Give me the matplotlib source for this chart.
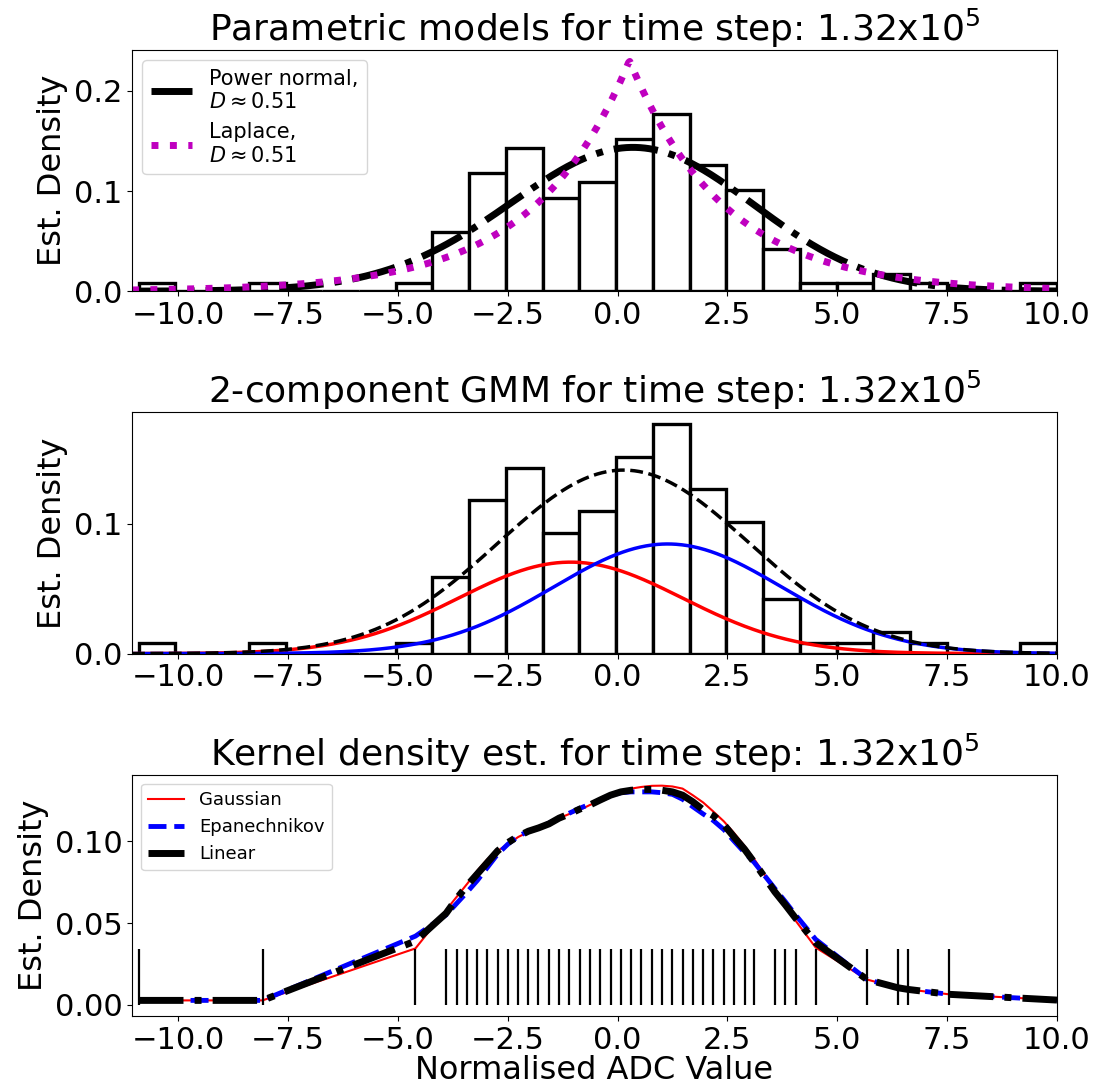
import numpy as np
import matplotlib
matplotlib.use('Agg')
import matplotlib.pyplot as plt
from matplotlib.lines import Line2D
from math import erf

# histogram of the normalised ADC values (25 equal bins between min and max)
hist_lo, hist_hi, n_bins = -10.9, 10.0, 25
bin_counts = [1, 0, 0, 1, 0, 0, 0, 1, 7, 14, 17, 11, 13,
              18, 21, 15, 12, 5, 1, 1, 2, 1, 0, 0, 1]

# fitted parametric models
pnorm_p, pnorm_loc, pnorm_scale = 1.5, 1.31, 3.13
laplace_loc, laplace_b = 0.27, 2.17
d_stat = 0.51

# 2 component gaussian mixture (weight, mean, sigma)
gmm_w = [0.45, 0.55]
gmm_mu = [-1.07, 1.14]
gmm_sd = [2.55, 2.60]

# unique sample values and kde estimates evaluated at them
kde_x = [-10.89, -8.08, -4.60, -3.90, -3.66, -3.42, -3.19, -2.96, -2.73, -2.50,
         -2.26, -2.03, -1.80, -1.56, -1.33, -1.10, -0.86, -0.63, -0.40, -0.16,
         0.075, 0.31, 0.54, 0.78, 1.01, 1.25, 1.48, 1.71, 1.95, 2.18,
         2.42, 2.65, 2.89, 3.11, 3.58, 3.82, 4.05, 4.51, 5.68, 6.38,
         6.61, 7.55, 10.0]
kde_gauss = [0.0028, 0.0028, 0.0345, 0.058, 0.066, 0.074, 0.082, 0.089, 0.094, 0.098,
             0.1025, 0.1055, 0.108, 0.1105, 0.114, 0.1165, 0.119, 0.122, 0.1245, 0.1275,
             0.130, 0.132, 0.133, 0.1337, 0.1338, 0.1333, 0.132, 0.128, 0.1235, 0.118,
             0.112, 0.105, 0.097, 0.089, 0.070, 0.061, 0.0515, 0.035, 0.0155, 0.0105,
             0.0095, 0.0065, 0.0030]
kde_epan = [0.0028, 0.0028, 0.042, 0.055, 0.062, 0.069, 0.076, 0.084, 0.092, 0.098,
            0.103, 0.106, 0.108, 0.111, 0.114, 0.117, 0.120, 0.1225, 0.125, 0.1275,
            0.1295, 0.130, 0.130, 0.130, 0.1295, 0.1285, 0.1255, 0.121, 0.1165, 0.1125,
            0.107, 0.100, 0.093, 0.087, 0.071, 0.063, 0.055, 0.040, 0.0155, 0.0105,
            0.0095, 0.0065, 0.0030]
kde_lin = [0.0028, 0.0028, 0.039, 0.056, 0.065, 0.073, 0.080, 0.087, 0.094, 0.099,
           0.103, 0.106, 0.108, 0.1105, 0.114, 0.1165, 0.1195, 0.122, 0.125, 0.128,
           0.130, 0.131, 0.1315, 0.1315, 0.131, 0.130, 0.128, 0.124, 0.119, 0.1155,
           0.110, 0.1025, 0.095, 0.087, 0.069, 0.061, 0.053, 0.038, 0.0155, 0.0105,
           0.0095, 0.0065, 0.0030]
# rug of the sample (last value sits on the right spine, not drawn)
rug_x = kde_x[:-1]
rug_top = 0.034

x_lim = (-11.05, 10.0)
x_ticks = [-10.0, -7.5, -5.0, -2.5, 0.0, 2.5, 5.0, 7.5, 10.0]
t_step = r'1.32x10$^5$'


def norm_pdf(x, mu, sd):
    return np.exp(-0.5 * ((x - mu) / sd) ** 2) / (sd * np.sqrt(2 * np.pi))


norm_cdf = np.vectorize(lambda z: 0.5 * (1 + erf(z / np.sqrt(2))))


def powernorm_pdf(x, p, loc, scale):
    z = (x - loc) / scale
    return p / scale * norm_pdf(z, 0, 1) * norm_cdf(-z) ** (p - 1)


def laplace_pdf(x, loc, b):
    return np.exp(-np.abs(x - loc) / b) / (2 * b)


edges = np.linspace(hist_lo, hist_hi, n_bins + 1)
centres = 0.5 * (edges[:-1] + edges[1:])
xs = np.linspace(x_lim[0], x_lim[1], 800)

plt.rcParams['font.size'] = 22
fig, axes = plt.subplots(3, 1, figsize=(11.01, 10.86), dpi=100)
fig.subplots_adjust(left=0.1199, right=0.960, top=0.954, bottom=0.0645, hspace=0.502)

# parametric fits
ax = axes[0]
ax.hist(centres, bins=edges, weights=bin_counts, density=True,
        color='white', edgecolor='k', lw=2.4)
ax.plot(xs, powernorm_pdf(xs, pnorm_p, pnorm_loc, pnorm_scale), 'k-.', lw=5)
ax.plot(xs, laplace_pdf(xs, laplace_loc, laplace_b), 'm:', lw=5)
handles = [Line2D([], [], color='k', ls='-.', lw=5),
           Line2D([], [], color='m', ls=':', lw=5)]
ax.legend(handles, ['Power normal,\n$D \\approx %.2f$' % d_stat,
                    'Laplace,\n$D \\approx %.2f$' % d_stat],
          loc='upper left', fontsize=15)
ax.set_title('Parametric models for time step: ' + t_step, fontsize=26)
ax.set_yticks([0.0, 0.1, 0.2])

# gmm
ax = axes[1]
ax.hist(centres, bins=edges, weights=bin_counts, density=True,
        color='white', edgecolor='k', lw=2.4)
comp = [w * norm_pdf(xs, m, s) for w, m, s in zip(gmm_w, gmm_mu, gmm_sd)]
ax.plot(xs, comp[0], 'r-', lw=2.5)
ax.plot(xs, comp[1], 'b-', lw=2.5)
ax.plot(xs, comp[0] + comp[1], 'k--', lw=2.5)
ax.set_title('2-component GMM for time step: ' + t_step, fontsize=26)
ax.set_yticks([0.0, 0.1])

# kde
ax = axes[2]
ax.plot(kde_x, kde_gauss, 'r-', lw=1.5, label='Gaussian')
ax.plot(kde_x, kde_epan, 'b--', lw=3.5, label='Epanechnikov')
ax.plot(kde_x, kde_lin, 'k-.', lw=5, label='Linear')
ax.vlines(rug_x, 0, rug_top, color='k', lw=1.6)
ax.legend(loc='upper left', fontsize=13)
ax.set_title('Kernel density est. for time step: ' + t_step, fontsize=26)
ax.set_xlabel('Normalised ADC Value', fontsize=23, labelpad=0)
ax.set_yticks([0.0, 0.05, 0.10])

for ax in axes:
    ax.set_xlim(*x_lim)
    ax.set_xticks(x_ticks)
    ax.set_ylabel('Est. Density', fontsize=23)

fig.savefig('out.png', dpi=100)
